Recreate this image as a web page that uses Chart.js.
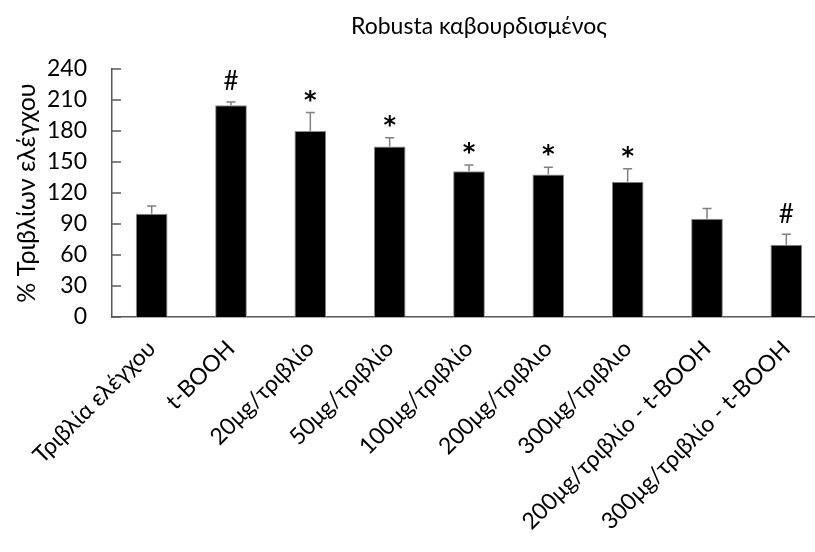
<!DOCTYPE html>
<html>
<head>
<meta charset="utf-8">
<script src="https://cdn.jsdelivr.net/npm/chart.js@4.4.0/dist/chart.umd.min.js"></script>
<style>
    html, body { margin: 0; padding: 0; background: #fff; overflow: hidden; }
    #wrap { width: 815px; height: 552px; overflow: hidden; }
</style>
</head>
<body>
<div id="wrap"><canvas id="chart" width="958" height="552"></canvas></div>
<script>
/**
 * Treatment groups on the x axis.
 * @type {string[]}
 */
var LABELS = ['Τριβλία ελέγχου', 't-BOOH', '20μg/τριβλίο', '50μg/τριβλίο', '100μg/τριβλίο',
    '200μg/τριβλιο', '300μg/τριβλιο', '200μg/τριβλίο - t-BOOH', '300μg/τριβλίο - t-BOOH'];

/**
 * Mean % of control plates.
 * @type {number[]}
 */
var VALUES = [100, 205, 180, 165, 141, 138, 131, 95, 70];

/**
 * Upper error bar length (SD).
 * @type {number[]}
 */
var ERRORS = [7.5, 3, 18, 8.5, 6, 7, 12.5, 10, 10];

/**
 * Significance markers above each bar.
 * @type {string[]}
 */
var MARKS = ['', '#', '*', '*', '*', '*', '*', '', '#'];

var TITLE = 'Robusta καβουρδισμένος';
var AXIS_COLOR = '#595959';
var FONT = "Lato, sans-serif";

/**
 * Draws the title, upper error bars and the significance markers.
 */
var errorBarPlugin = {
    id: 'errorBars',
    afterDatasetsDraw: function (chart) {
        var ctx = chart.ctx;
        var y = chart.scales.y;
        var meta = chart.getDatasetMeta(0);
        ctx.save();
        for (var i = 0; i < meta.data.length; i++) {
            var x = meta.data[i].x;
            var top = y.getPixelForValue(VALUES[i] + ERRORS[i]);
            var base = y.getPixelForValue(VALUES[i]);
            ctx.strokeStyle = '#808080';
            ctx.lineWidth = 1.5;
            ctx.beginPath();
            ctx.moveTo(x, base);
            ctx.lineTo(x, top);
            ctx.moveTo(x - 4.5, top);
            ctx.lineTo(x + 4.5, top);
            ctx.stroke();
            if (MARKS[i]) {
                ctx.fillStyle = '#000';
                ctx.textAlign = 'center';
                ctx.textBaseline = 'middle';
                if (MARKS[i] === '*') {
                    ctx.font = 'bold 24px "DejaVu Sans", sans-serif';
                    ctx.fillText(MARKS[i], x, top - 11);
                } else {
                    ctx.font = '26px ' + FONT;
                    ctx.fillText(MARKS[i], x, top - 20);
                }
            }
        }
        ctx.restore();
    },
    afterDraw: function (chart) {
        var ctx = chart.ctx;
        var y = chart.scales.y;
        ctx.save();
        // small tick marks pointing into the plot
        ctx.strokeStyle = AXIS_COLOR;
        ctx.lineWidth = 1.5;
        ctx.beginPath();
        for (var i = 0; i < y.ticks.length; i++) {
            var py = y.getPixelForValue(y.ticks[i].value);
            ctx.moveTo(chart.chartArea.left, py);
            ctx.lineTo(chart.chartArea.left + 9, py);
        }
        ctx.stroke();
        // title, centred on the whole chart box
        ctx.fillStyle = '#000';
        ctx.font = '23px ' + FONT;
        ctx.textAlign = 'center';
        ctx.textBaseline = 'middle';
        ctx.fillText(TITLE, chart.width / 2, 27);
        ctx.restore();
    }
};

function createChart() {
    return new Chart(document.getElementById('chart').getContext('2d'), {
        type: 'bar',
        data: {
            labels: LABELS,
            datasets: [{
                data: VALUES,
                backgroundColor: '#000',
                borderColor: '#8c8c8c',
                borderWidth: 1,
                barPercentage: 0.4,
                categoryPercentage: 1
            }]
        },
        options: {
            responsive: false,
            animation: false,
            layout: { padding: { top: 69, right: 132 } },
            plugins: {
                legend: { display: false },
                tooltip: { enabled: false },
                title: { display: false }
            },
            scales: {
                x: {
                    grid: { display: false, drawTicks: false },
                    border: { color: AXIS_COLOR, width: 1.5 },
                    ticks: {
                        color: '#000',
                        font: { family: FONT, size: 23 },
                        minRotation: 45,
                        maxRotation: 45,
                        padding: 18
                    },
                    afterFit: function (scale) {
                        scale.height = 235;
                    }
                },
                y: {
                    min: 0,
                    max: 240,
                    grid: { display: false, drawTicks: false },
                    border: { color: AXIS_COLOR, width: 1.5 },
                    ticks: {
                        stepSize: 30,
                        color: '#000',
                        font: { family: FONT, size: 23 },
                        padding: 25
                    },
                    title: {
                        display: true,
                        text: '% Τριβλίων ελέγχου',
                        color: '#000',
                        font: { family: FONT, size: 25 },
                        padding: { top: 12, bottom: 0 }
                    },
                    afterFit: function (scale) {
                        scale.width = 112;
                    }
                }
            }
        },
        plugins: [errorBarPlugin]
    });
}

createChart();
</script>
</body>
</html>
